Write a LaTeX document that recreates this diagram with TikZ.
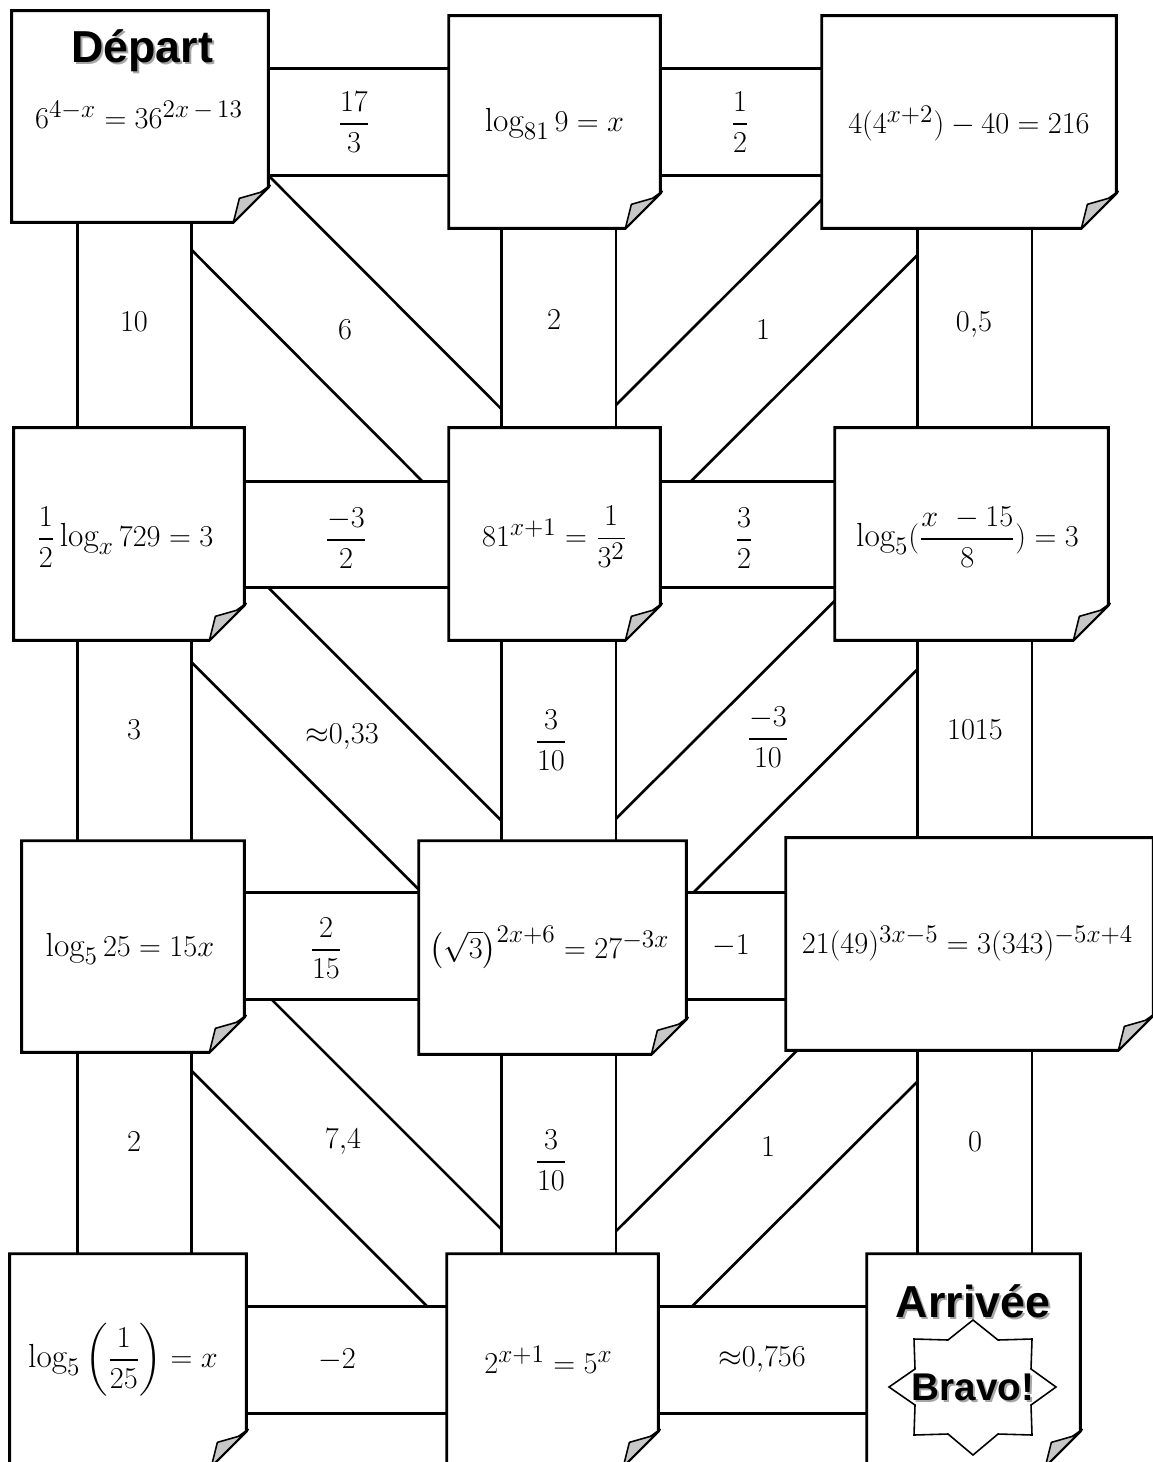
\documentclass[tikz,border=0pt]{standalone}
\usepackage{amsmath}
\usepackage{fontspec}
\newfontfamily\titlefont{Liberation Sans}
\usetikzlibrary{fit}
\pgfdeclarelayer{background}
\pgfsetlayers{background,main}
\begin{document}
\begin{tikzpicture}[x=0.02cm,y=-0.02cm,
  note/.style={fill=white,inner sep=0pt},
  eq/.style={font=\fontsize{19}{23}\selectfont},
  noteline/.style={line width=1.6pt},
  flap/.style={fill=black!22,line width=0.9pt,line join=round},
  hstrip/.style={line width=1.6pt,double=white,double distance=2.08cm},
  vstrip/.style={line width=1.6pt,double=white,double distance=2.24cm},
  band/.style={line width=1.6pt,double=white,double distance=2.08cm},
  answer/.style={font=\fontsize{19}{23}\selectfont},
  title/.style={font=\fontsize{25.5}{30}\selectfont\titlefont\bfseries,anchor=base},
  titleshadow/.style={title,text=black!35},
  starline/.style={line width=0.9pt}]
\useasboundingbox (0,0) rectangle (1152,1462);
\coordinate (row1) at (0,122);
\coordinate (row2) at (0,534.5);
\coordinate (row3) at (0,946);
\coordinate (row4) at (0,1360);
\coordinate (col1) at (134.5,0);
\coordinate (col2) at (558.5,0);
\coordinate (col3) at (974.5,0);
\node[note,fit={(12,11) (268,222)}] (b11) {};
\node[note,fit={(449,16) (660,228)}] (b12) {};
\node[note,fit={(822,16) (1116,228)}] (b13) {};
\node[note,fit={(14,428) (244,640)}] (b21) {};
\node[note,fit={(449,428) (660,640)}] (b22) {};
\node[note,fit={(835,428) (1108,640)}] (b23) {};
\node[note,fit={(22,841) (244,1052)}] (b31) {};
\node[note,fit={(419,841) (686,1054)}] (b32) {};
\node[note,fit={(786,838) (1153,1050)}] (b33) {};
\node[note,fit={(10,1254) (246,1466)}] (b41) {};
\node[note,fit={(447,1254) (658,1466)}] (b42) {};
\node[note,fit={(867,1254) (1080,1466)}] (b43) {};
\foreach \n in {b11,b12,b13,b21,b22,b23,b31,b32,b33,b41,b42,b43} {
  \draw[noteline] (\n.north west) -- (\n.north east) -- ([shift={(0,-35)}]\n.south east)
    -- ([shift={(-35,0)}]\n.south east) -- (\n.south west) -- cycle;
  \draw[flap] ([shift={(-35,0)}]\n.south east) -- ([shift={(-29,-24)}]\n.south east)
    -- ([shift={(-8,-30)}]\n.south east) -- ([shift={(2,-37)}]\n.south east) -- cycle;
}
\node[eq] (e11) at ([shift={(-1,-2)}]b11.center) {$6^{4-x} = 36^{2x\,-\,13}$};
\node[eq] (e12) at ([shift={(0,2)}]b12.center) {$\log_{81} 9 = x$};
\node[eq] (e13) at ([shift={(0,2)}]b13.center) {$4(4^{x+2}) - 40 = 216$};
\node[eq] (e21) at ([shift={(-4,3)}]b21.center) {$\dfrac{1}{2}\log_x 729 = 3$};
\node[eq] (e22) at ([shift={(0,3)}]b22.center) {$81^{x+1} = \dfrac{1}{3^2}$};
\node[eq] (e23) at ([shift={(-4,3)}]b23.center) {$\log_5(\dfrac{x\ -15}{8}) = 3$};
\node[eq] (e31) at ([shift={(-3,2)}]b31.center) {$\log_5 25 = 15x$};
\node[eq] (e32) at ([shift={(-3,0)}]b32.center) {$\bigl(\sqrt{3}\bigr)^{2x+6} = 27^{-3x}$};
\node[eq] (e33) at ([shift={(-2,0)}]b33.center) {$21(49)^{3x-5} = 3(343)^{-5x+4}$};
\node[eq] (e41) at ([shift={(-5,0)}]b41.center) {$\log_5\left(\dfrac{1}{25}\right) = x$};
\node[eq] (e42) at ([shift={(-4,0)}]b42.center) {$2^{x+1} = 5^x$};
\node[titleshadow] at (144,65) {Départ};
\node[title] (depart) at (142,63) {Départ};
\node[titleshadow] at (975,1319) {Arrivée};
\node[title] (arrivee) at (973,1317) {Arrivée};
\node[titleshadow,anchor=center,font=\fontsize{22}{26}\selectfont\titlefont\bfseries] at (975,1389) {Bravo!};
\node[title,anchor=center,font=\fontsize{22}{26}\selectfont\titlefont\bfseries] (bravo) at (973,1387) {Bravo!};
\draw[starline,shift={(bravo.center)}] (0,-67) -- (25,-47) -- (59,-48) -- (58,-18) -- (83,0)
  -- (58,18) -- (59,48) -- (25,47) -- (0,68) -- (-25,47) -- (-59,48) -- (-58,18)
  -- (-84,0) -- (-58,-18) -- (-59,-48) -- (-25,-47) -- cycle;
\begin{pgfonlayer}{background}
\fill[white] (0,0) rectangle (1152,1462);
\draw[band] ([shift={(-3,3)}]b11.center) -- ([shift={(-2,2)}]b22.center);
\draw[band] ([shift={(3,3)}]b13.center) -- ([shift={(4,4)}]b22.center);
\draw[band] ([shift={(5,-5)}]b21.center) -- (b32.center);
\draw[band] ([shift={(3,3)}]b23.center) -- ([shift={(5,5)}]b32.center);
\draw[band] ([shift={(5,-5)}]b31.center) -- ([shift={(2,-2)}]b42.center);
\draw[band] ([shift={(5,5)}]b33.center) -- ([shift={(5,5)}]b42.center);
\draw[hstrip] (b11.center |- row1) -- (b12.center |- row1);
\draw[hstrip] (b12.center |- row1) -- (b13.center |- row1);
\draw[hstrip] (b21.center |- row2) -- (b22.center |- row2);
\draw[hstrip] (b22.center |- row2) -- (b23.center |- row2);
\draw[hstrip] (b31.center |- row3) -- (b32.center |- row3);
\draw[hstrip] (b32.center |- row3) -- (b33.center |- row3);
\draw[hstrip] (b41.center |- row4) -- (b42.center |- row4);
\draw[hstrip] (b42.center |- row4) -- (b43.center |- row4);
\draw[vstrip] (col1 |- b11.center) -- (col1 |- b21.center);
\draw[vstrip] (col1 |- b21.center) -- (col1 |- b31.center);
\draw[vstrip] (col1 |- b31.center) -- (col1 |- b41.center);
\draw[vstrip] (col2 |- b12.center) -- (col2 |- b22.center);
\draw[vstrip] (col2 |- b22.center) -- (col2 |- b32.center);
\draw[vstrip] (col2 |- b32.center) -- (col2 |- b42.center);
\draw[vstrip] (col3 |- b13.center) -- (col3 |- b23.center);
\draw[vstrip] (col3 |- b23.center) -- (col3 |- b33.center);
\draw[vstrip] (col3 |- b33.center) -- (col3 |- b43.center);
\end{pgfonlayer}
\node[answer] (a1) at (354,122) {$\dfrac{17}{3}$};
\node[answer] (a2) at (740,122) {$\dfrac{1}{2}$};
\node[answer] (a3) at (134,322) {$10$};
\node[answer] (a4) at (345,330) {$6$};
\node[answer] (a5) at (554,320) {$2$};
\node[answer] (a6) at (763,330) {$1$};
\node[answer] (a7) at (974,325) {$0{,}5$};
\node[answer] (a8) at (346,538) {$\dfrac{-3}{2}$};
\node[answer] (a9) at (744,538) {$\dfrac{3}{2}$};
\node[answer] (a10) at (134,730) {$3$};
\node[answer] (a11) at (342,737) {${\approx}0{,}33$};
\node[answer] (a12) at (551,740) {$\dfrac{3}{10}$};
\node[answer] (a13) at (768,737) {$\dfrac{-3}{10}$};
\node[answer] (a14) at (975,730) {$1015$};
\node[answer] (a15) at (326,948) {$\dfrac{2}{15}$};
\node[answer] (a16) at (731,946) {$-1$};
\node[answer] (a17) at (134,1142) {$2$};
\node[answer] (a18) at (343,1142) {$7{,}4$};
\node[answer] (a19) at (551,1160) {$\dfrac{3}{10}$};
\node[answer] (a20) at (768,1147) {$1$};
\node[answer] (a21) at (975,1142) {$0$};
\node[answer] (a22) at (337,1360) {$-2$};
\node[answer] (a23) at (762,1360) {${\approx}0{,}756$};
\end{tikzpicture}
\end{document}
